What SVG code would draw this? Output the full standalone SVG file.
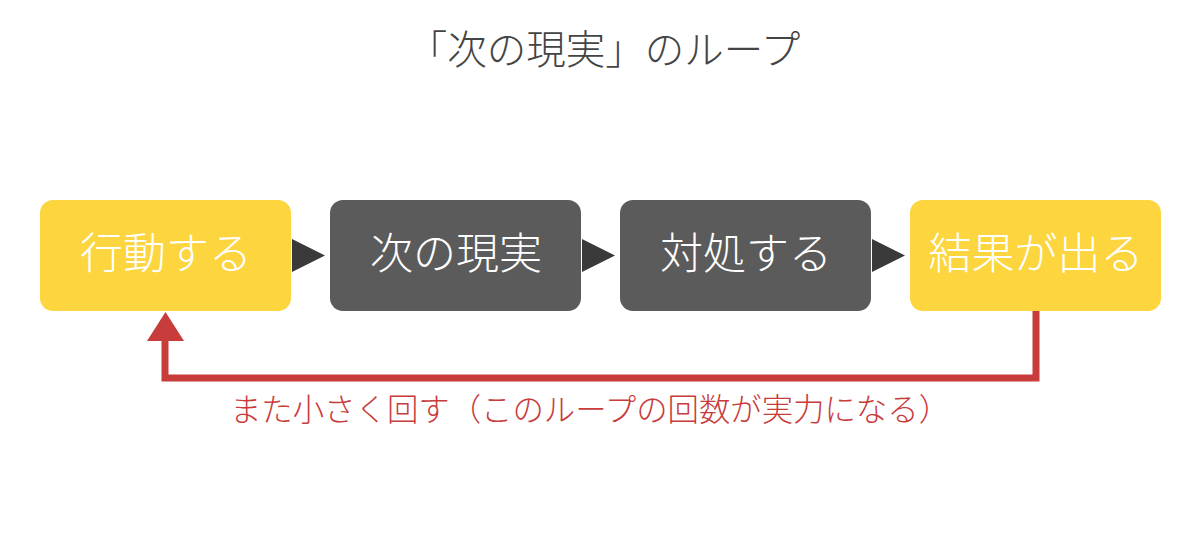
<svg xmlns="http://www.w3.org/2000/svg" width="1200" height="560" viewBox="0 0 1200 560">
<style>
.t{font-family:"Noto Sans CJK JP","Noto Sans",sans-serif;font-weight:300;}
.node text{fill:#ffffff;font-size:43px;text-anchor:middle;}
.y{fill:#fdd53f;}
.d{fill:#5b5b5b;}
.tri{fill:#3a3a3a;}
</style>
<rect width="1200" height="560" fill="#ffffff"/>
<text class="t" x="604" y="64" font-size="39.5" fill="#444444" text-anchor="middle">「次の現実」のループ</text>
<g id="connectors">
<polygon class="tri" points="292,239 325,255.5 292,272"/>
<polygon class="tri" points="582,239 615,255.5 582,272"/>
<polygon class="tri" points="872,239 905,255.5 872,272"/>
<polyline points="1036,310 1036,378 165,378 165,338" fill="none" stroke="#c83c3c" stroke-width="7"/>
<polygon points="147,341 165.5,312 184,341" fill="#c83c3c"/>
</g>
<g id="n1" class="node"><rect class="y" x="40" y="200" width="251" height="111" rx="13"/><text class="t" x="166" y="269">行動する</text></g>
<g id="n2" class="node"><rect class="d" x="330" y="200" width="251" height="111" rx="13"/><text class="t" x="456" y="269">次の現実</text></g>
<g id="n3" class="node"><rect class="d" x="620" y="200" width="251" height="111" rx="13"/><text class="t" x="746" y="269">対処する</text></g>
<g id="n4" class="node"><rect class="y" x="910" y="200" width="251" height="111" rx="13"/><text class="t" x="1036" y="269">結果が出る</text></g>
<text class="t" x="590" y="421" font-size="31.4" fill="#c83c3c" text-anchor="middle">また小さく回す（このループの回数が実力になる）</text>
</svg>
